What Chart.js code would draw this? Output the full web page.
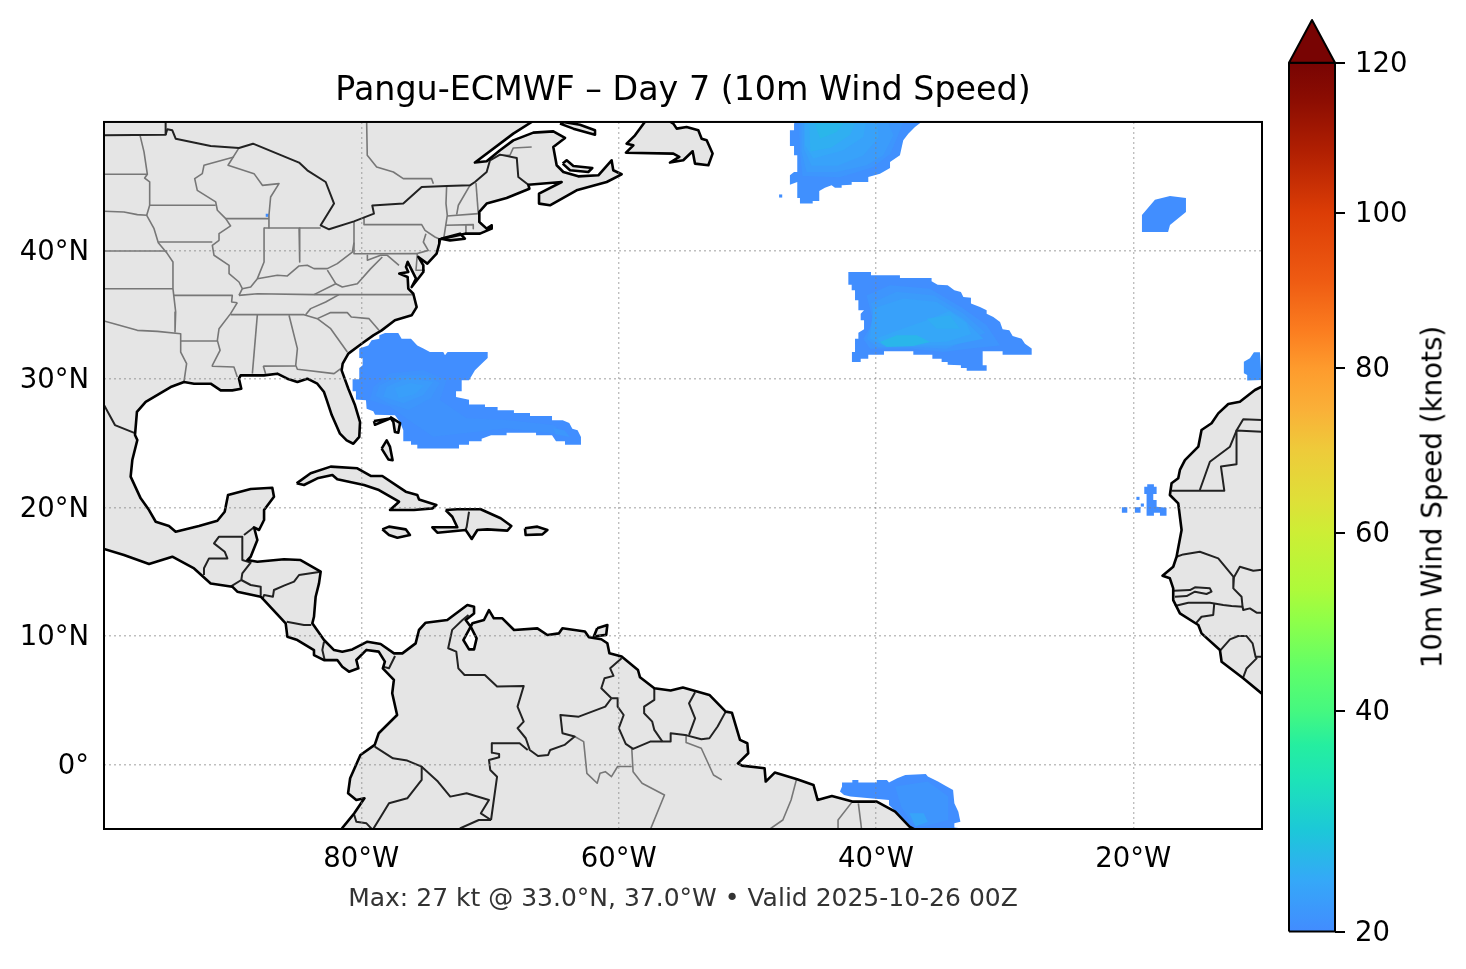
<!DOCTYPE html>
<html>
<head>
<meta charset="utf-8">
<title>Pangu-ECMWF Day 7</title>
<script src="https://cdn.jsdelivr.net/npm/chart.js@4/dist/chart.umd.min.js"></script>
<style>
    body { margin: 0; background: #fff; width: 1466px; height: 969px; overflow: hidden; position: relative; }
    canvas { position: absolute; top: 0; }
    #mapChart { left: 0; }
    #barChart { left: 1280px; }
    #barLabel {
        position: absolute; left: 1432px; top: 497px; white-space: nowrap;
        font: 27.7px "DejaVu Sans"; color: #000;
        transform: translate(-50%, -50%) rotate(-90deg);
    }
</style>
</head>
<body>
<canvas id="mapChart" width="1280" height="969"></canvas>
<canvas id="barChart" width="186" height="969"></canvas>
<div id="barLabel">10m Wind Speed (knots)</div>
<script>
// texts
const titleText = 'Pangu-ECMWF – Day 7 (10m Wind Speed)';
const footerText = 'Max: 27 kt @ 33.0°N, 37.0°W • Valid 2025-10-26 00Z';

// axes
const lonRange = [-100, -10];
const latRange = [-5, 50];
const lonTicks = [-80, -60, -40, -20];
const latTicks = [0, 10, 20, 30, 40];

// colorbar, the scale runs up to the tip of the arrow
const barTicks = [20, 40, 60, 80, 100, 120];
const barScaleValues = [20, 40, 60, 80, 100, 120, 125.7];
const barScaleFractions = [0, 0.2419, 0.4375, 0.6179, 0.7886, 0.9532, 1];
const barStopValues = [20, 24.6, 29.2, 33.7, 36.9, 40, 44.7, 50.3, 53.6, 60, 64, 70, 75, 80, 85, 91.5, 100, 108.3, 115, 120];
const barStopColors = ['#428cff', '#35a8f8', '#1cc8d8', '#1de3b8', '#25eea0', '#45f880', '#60fe68', '#90ff48', '#aefa3a', '#cdee35',
    '#dfdf38', '#eecb3a', '#fab038', '#fe9b2d', '#fb7c1f', '#ee5a12', '#dc3d06', '#b01f02', '#8c0d02', '#780403'];

// coast rings, lon/lat
const americasCoast = [[-66.7, 51], [-66.76, 50], [-68.19, 49.09], [-71.17, 46.84], [-70.26, 46.94], [-69.22, 47.8], [-68.19, 48.57], [-66.63, 49.17], [-65.08, 49.27], [-64.17, 48.76], [-65.08, 48.05], [-64.82, 46.63], [-64.3, 46.11], [-63.14, 45.77], [-61.58, 45.85], [-60.55, 47.02], [-60.42, 46.24], [-59.77, 45.93], [-60.93, 45.33], [-63.27, 44.68], [-65.34, 43.52], [-66.17, 43.65], [-66.19, 44.42], [-64.43, 45.33], [-67.02, 45.12], [-66.94, 44.81], [-68.71, 44.09], [-70.26, 43.65], [-70.83, 43], [-70.83, 42.22], [-70.26, 41.7], [-69.87, 41.96], [-69.87, 41.7], [-70.78, 41.31], [-71.94, 41.31], [-73.89, 40.87], [-73.94, 40.53], [-74.15, 39.76], [-74.87, 38.98], [-75.57, 39.5], [-75.18, 38.85], [-75.18, 38.33], [-76.09, 37.16], [-75.75, 37.81], [-76.4, 39.11], [-76.53, 38.72], [-76.35, 38.33], [-77.05, 38.2], [-76.4, 37.94], [-76.35, 37.03], [-75.96, 36.64], [-75.7, 35.6], [-76.09, 34.96], [-77.39, 34.57], [-78.42, 33.79], [-79.07, 33.4], [-79.98, 32.75], [-81.01, 31.98], [-81.45, 31.2], [-81.53, 30.68], [-81.01, 29.25], [-80.49, 27.96], [-80.1, 26.66], [-80.16, 25.5], [-80.62, 24.97], [-81.14, 25.23], [-81.66, 25.75], [-82.3, 27.2], [-82.7, 28.4], [-82.9, 28.99], [-83.42, 29.64], [-84.2, 30.03], [-84.97, 29.77], [-85.75, 30.03], [-86.53, 30.42], [-87.56, 30.29], [-89.38, 30.29], [-89.51, 30.03], [-89.33, 29.25], [-90.03, 29.12], [-90.93, 29.12], [-91.71, 29.64], [-93, 29.64], [-93.78, 29.77], [-94.82, 29.38], [-96.76, 28.22], [-97.44, 27.44], [-97.59, 25.65], [-97.41, 25.26], [-97.8, 23.7], [-97.93, 22.41], [-97.15, 20.72], [-96.5, 19.81], [-95.98, 18.9], [-94.95, 18.57], [-94.43, 18.13], [-92.62, 18.57], [-91.19, 18.98], [-90.62, 19.68], [-90.36, 20.98], [-88.6, 21.45], [-86.92, 21.55], [-86.79, 20.85], [-87.56, 19.81], [-87.56, 19.04], [-87.95, 18.26], [-88.34, 18.47], [-88.08, 17.48], [-88.6, 16.18], [-88.86, 15.92], [-88.08, 15.79], [-86.01, 15.98], [-84.72, 15.92], [-83.16, 15.02], [-83.29, 14.11], [-83.55, 13.07], [-83.68, 11.51], [-83.81, 11], [-82.9, 9.7], [-82.12, 8.92], [-81.48, 8.79], [-80.7, 8.97], [-79.53, 9.57], [-78.5, 9.39], [-77.46, 8.66], [-76.81, 8.66], [-75.78, 9.44], [-75.52, 10.48], [-75, 11.05], [-73.32, 11.26], [-71.76, 12.42], [-71.24, 12.29], [-71.24, 11.77], [-71.89, 11.26], [-71.5, 10.74], [-72.07, 9.7], [-71.63, 8.97], [-71.24, 8.97], [-71.04, 9.83], [-71.5, 10.74], [-71.37, 11], [-70.47, 11.26], [-70.08, 12.03], [-69.7, 11.39], [-69.04, 11.39], [-68.13, 10.48], [-66.32, 10.61], [-65.54, 10.09], [-64.64, 10.22], [-64.37, 10.62], [-62.62, 10.36], [-62.31, 9.92], [-61.35, 9.76], [-60.88, 9.45], [-60.72, 8.67], [-59.77, 8.41], [-58.5, 7.37], [-58.34, 6.8], [-57.23, 5.95], [-55.96, 5.77], [-55.01, 6], [-52.95, 5.43], [-51.68, 4.13], [-51.2, 4.05], [-50.57, 1.93], [-50, 1.67], [-49.93, 0.89], [-50.73, 0.11], [-50.41, -0.07], [-48.66, -0.28], [-48.57, -1.31], [-47.87, -0.61], [-46.13, -1.13], [-44.86, -1.57], [-44.54, -2.74], [-43.43, -2.43], [-41.84, -2.87], [-39.94, -2.87], [-38.51, -3.65], [-37.4, -4.81], [-36.93, -5.07], [-36.93, -6], [-81.5, -6], [-81.5, -4.94], [-80.55, -3.78], [-79.76, -2.61], [-80.39, -2.74], [-81.03, -2.22], [-80.87, -1.05], [-80.07, 0.76], [-78.96, 1.54], [-78.65, 2.45], [-77.22, 3.87], [-77.6, 5.56], [-77.47, 6.6], [-78.33, 7.5], [-78.17, 8.02], [-78.65, 8.8], [-79.6, 8.93], [-80.39, 8.15], [-80.23, 7.5], [-80.96, 7.24], [-81.48, 7.62], [-81.87, 8.14], [-82.9, 8.14], [-83.68, 8.53], [-83.68, 8.92], [-84.97, 9.7], [-85.75, 9.96], [-85.88, 11], [-87.56, 12.81], [-87.82, 13.07], [-89.64, 13.46], [-90.03, 13.85], [-91.71, 14.1], [-93, 15.27], [-94.69, 16.18], [-96.5, 15.61], [-98.45, 16.31], [-100, 16.78], [-101, 16.9], [-101, 51], [-66.7, 51]];
const africaCoast = [[-9, 30], [-10.03, 29.41], [-10.55, 29.15], [-11.72, 28.24], [-12.62, 28.06], [-13.4, 27.33], [-13.92, 26.56], [-14.7, 26.04], [-14.95, 24.74], [-15.99, 23.7], [-16.38, 22.93], [-16.51, 22.28], [-17.03, 21.89], [-17.16, 20.98], [-16.51, 20.33], [-16.25, 18.26], [-16.64, 16.18], [-16.9, 15.4], [-17.73, 14.7], [-17.16, 14.5], [-16.9, 13.72], [-16.9, 12.81], [-16.38, 11.77], [-14.95, 10.87], [-14.7, 10.22], [-13.27, 8.92], [-13.14, 8.01], [-11.46, 6.72], [-10.03, 5.55], [-9, 5], [-9, 30]];
const newfoundland = [[-57.82, 50.2], [-58.73, 48.96], [-59.38, 48.31], [-58.86, 48.18], [-59.43, 47.61], [-55.75, 47.54], [-55.29, 47.28], [-56.01, 46.84], [-54.98, 47.02], [-54.25, 47.72], [-54.07, 46.76], [-53.03, 46.63], [-52.7, 47.54], [-53.16, 48.57], [-53.55, 48.7], [-53.81, 49.35], [-54.72, 49.61], [-55.49, 49.48], [-55.75, 49.87], [-56.27, 50.2], [-57.82, 50.2]];
const anticosti = [[-64.56, 49.87], [-63.52, 49.48], [-61.84, 49.01], [-61.84, 49.35], [-63.01, 49.79], [-64.3, 50], [-64.56, 49.87]];
const princeEdward = [[-64.35, 46.76], [-63.78, 46.24], [-62.36, 46.11], [-62.05, 46.42], [-63.52, 46.58], [-64.04, 47.02], [-64.35, 46.76]];
const longIsland = [[-73.81, 40.92], [-72.33, 41.31], [-71.95, 40.92], [-73.11, 40.79], [-73.81, 40.92]];
const cuba = [[-85.03, 21.89], [-83.94, 22.67], [-82.38, 23.19], [-80.31, 23.06], [-79.27, 22.46], [-78.37, 22.46], [-76.55, 21.24], [-75.65, 20.98], [-75.52, 20.64], [-74.17, 20.2], [-74.48, 19.94], [-75.91, 19.81], [-77.77, 19.81], [-77.07, 20.46], [-78.63, 21.37], [-79.79, 21.76], [-81.87, 22.2], [-82.25, 22.54], [-83.42, 22.28], [-84.46, 21.76], [-85.03, 21.89]];
const jamaica = [[-78.37, 18.31], [-77.85, 18.52], [-76.55, 18.31], [-76.22, 17.87], [-77.2, 17.66], [-77.85, 17.87], [-78.37, 18.31]];
const hispaniola = [[-73.45, 19.81], [-72.54, 19.87], [-71.5, 19.87], [-70.73, 19.87], [-69.17, 19.17], [-68.34, 18.57], [-68.65, 18.21], [-70.21, 18.31], [-70.98, 18.26], [-71.42, 17.56], [-71.89, 18.26], [-74.09, 18.05], [-74.48, 18.47], [-72.54, 18.47], [-72.93, 19.29], [-73.45, 19.81]];
const puertoRico = [[-67.28, 18.39], [-66.32, 18.52], [-65.54, 18.26], [-65.93, 17.92], [-67.23, 17.87], [-67.28, 18.39]];
const trinidad = [[-61.67, 10.62], [-60.88, 10.87], [-60.97, 10.1], [-61.93, 9.97], [-61.67, 10.62]];
const andros = [[-78.42, 24.59], [-78.03, 25.23], [-77.77, 24.72], [-77.57, 23.68], [-77.9, 23.75], [-78.42, 24.59]];
const grandBahama = [[-79.02, 26.74], [-77.77, 26.92], [-78.94, 26.45], [-79.02, 26.74]];
const abaco = [[-77.77, 27.05], [-76.99, 26.58], [-77.13, 25.83], [-77.39, 25.88], [-77.51, 26.66], [-77.77, 27.05]];
const coastRings = [americasCoast, africaCoast, newfoundland, anticosti, princeEdward, longIsland, cuba, jamaica, hispaniola, puertoRico, trinidad, andros, grandBahama, abaco];

// country borders
const countryBorders = [
    [[-100, 48.96], [-95.21, 49.01], [-95.21, 50.2]],
    [[-95.21, 49.01], [-95.08, 49.43], [-94.69, 49.35], [-94.43, 48.7], [-91.71, 48.13], [-89.51, 47.98], [-88.42, 48.31], [-84.84, 46.84], [-84.2, 46.24], [-82.77, 45.33], [-82.12, 43.65], [-83.16, 41.96], [-82.51, 41.65], [-80.57, 42.27], [-79.02, 42.87], [-79.15, 43.5], [-76.74, 43.65], [-75.31, 44.94], [-73.37, 45.02], [-71.56, 45.07], [-71.17, 45.33], [-70.26, 46.11], [-70, 47.02], [-69.22, 47.46], [-67.92, 47.2], [-67.8, 45.72], [-67.02, 45.12]],
    [[-100, 27.98], [-99.15, 26.42], [-97.6, 25.8]],
    [[-71.63, 19.68], [-71.81, 18.52], [-71.89, 18.26]],
    [[-92.23, 14.76], [-92.23, 15.28], [-91.84, 16.05], [-90.41, 16.05], [-90.62, 16.57], [-91.45, 17.22], [-91.06, 17.74], [-89.25, 17.74], [-89.25, 15.92]],
    [[-89.12, 17.87], [-88.34, 18.47]],
    [[-89.25, 15.92], [-88.6, 15.72], [-89.25, 14.89], [-89.33, 14.37], [-90.16, 13.85]],
    [[-89.33, 14.37], [-88.6, 13.98], [-87.82, 13.85], [-87.82, 13.2]],
    [[-83.16, 15.02], [-84.84, 14.76], [-85.23, 14.24], [-86.01, 13.93], [-86.79, 13.59], [-86.87, 13.07], [-87.56, 13.2], [-87.69, 12.86]],
    [[-85.8, 11.13], [-84.46, 10.87], [-83.89, 10.87]],
    [[-82.9, 9.57], [-83.03, 8.92], [-82.85, 8.14]],
    [[-77.38, 8.46], [-77.85, 7.5], [-78.33, 7.63]],
    [[-71.67, 11.65], [-72.14, 11.26], [-72.94, 10.49], [-73.25, 9.06], [-72.62, 8.8], [-72.46, 7.5], [-71.98, 6.98], [-70.4, 6.98], [-69.45, 6.08], [-67.38, 6.13], [-67.86, 4.52], [-67.38, 3.35], [-67.86, 2.84], [-67.22, 2.06], [-66.91, 1.15], [-66.27, 0.68], [-65.48, 0.76], [-65.32, 1.15], [-64.21, 1.54], [-63.42, 2.19], [-64.37, 2.45], [-64.53, 3.87], [-63.1, 3.74], [-61.04, 4.52], [-60.56, 5.17]],
    [[-60.56, 5.17], [-61.35, 5.95], [-61.1, 6.73], [-60.4, 6.91], [-60.66, 7.5], [-59.77, 8.28]],
    [[-60.56, 5.17], [-60.08, 5.17], [-60.08, 4.52], [-59.61, 3.87], [-59.99, 2.84], [-59.45, 1.62], [-58.88, 1.23], [-57.55, 1.8], [-55.96, 1.8], [-55.96, 2.45], [-54.85, 2.32], [-53.58, 1.98], [-52.95, 2.06], [-52.31, 2.97], [-51.68, 4.13]],
    [[-57.23, 5.95], [-57.23, 5.04], [-58.02, 4.52], [-58.02, 4], [-57.39, 3.35], [-57.23, 2.71], [-56.6, 1.8]],
    [[-54.06, 5.64], [-54.53, 4.78], [-54.06, 3.61], [-54.53, 2.32]],
    [[-78.96, 1.41], [-77.54, 0.5], [-76.43, 0.32], [-75.31, -0.15], [-74.05, -1.31], [-73.09, -2.48], [-71.82, -2.22], [-70.08, -2.74], [-70.71, -3.78], [-69.92, -4.3]],
    [[-69.86, 1.67], [-67.7, 1.67], [-67.07, 1.15]],
    [[-69.86, 1.67], [-69.86, 0.94], [-69.29, 0.84], [-69.29, 0.58], [-70.08, 0.37], [-69.98, -0.41], [-69.45, -0.93], [-69.92, -4.3]],
    [[-75.31, -0.15], [-75.31, -1.18], [-76.43, -2.61], [-77.85, -3], [-78.49, -4.04], [-79.12, -5.07]],
    [[-80.55, -3.91], [-80.39, -4.43], [-79.6, -4.56], [-79.12, -5.07]],
    [[-69.92, -4.3], [-70.87, -4.3], [-72.3, -4.94], [-72.6, -5.5]],
    [[-17.03, 21.32], [-12.93, 21.32], [-13.19, 23.19], [-11.98, 23.37], [-11.98, 25.99], [-10.03, 25.91], [-9, 25.91]],
    [[-14.83, 21.37], [-14.05, 23.57], [-12.49, 24.74], [-11.98, 25.99], [-11.46, 26.87], [-10.03, 26.82], [-9, 26.82]],
    [[-16.64, 16.18], [-16.12, 16.36], [-14.83, 16.57], [-13.4, 16.05], [-12.18, 14.58], [-12.23, 13.72], [-11.59, 13.07], [-11.51, 12.29], [-12.36, 12.34], [-13.01, 12.42], [-14.05, 12.6], [-15.73, 12.6], [-16.77, 12.34]],
    [[-12.18, 14.58], [-11.72, 15.4], [-10.68, 15.09], [-9, 15.27]],
    [[-11.51, 12.29], [-11.46, 12.03], [-10.94, 12.16], [-10.42, 11.83], [-9, 11.83]],
    [[-16.85, 13.54], [-15.6, 13.59], [-15.21, 13.8], [-14.05, 13.72], [-13.92, 13.46], [-14.31, 13.28], [-15.21, 13.46], [-15.86, 13.12], [-16.77, 13.07]],
    [[-13.71, 12.55], [-13.79, 11.65], [-14.7, 11.51], [-15.14, 10.99]],
    [[-13.22, 8.92], [-12.49, 9.75], [-11.85, 10.01], [-11.2, 10.01], [-10.73, 9.44], [-10.5, 8.4], [-9, 8.4]],
    [[-11.46, 6.79], [-11.2, 7.49], [-10.42, 8.27], [-10.5, 8.4]],
];

// state and province lines
const stateLines = [
    [[-100, 45.93], [-96.63, 45.93]],
    [[-97.2, 48.96], [-96.89, 47.67], [-96.63, 45.93], [-96.84, 45.64], [-96.45, 45.33], [-96.45, 43.52], [-96.68, 42.74]],
    [[-100, 43.05], [-98.45, 43], [-97.41, 42.79], [-96.68, 42.74], [-96.11, 41.7], [-95.78, 40.61], [-95.08, 39.76], [-94.64, 39.11], [-94.64, 37.03], [-94.43, 35.22], [-94.48, 33.66]],
    [[-100, 39.96], [-95.08, 39.96]],
    [[-100, 37.03], [-94.64, 37.03]],
    [[-96.45, 43.52], [-91.32, 43.52]],
    [[-95.78, 40.66], [-91.58, 40.66]],
    [[-94.64, 36.51], [-90.03, 36.51], [-90.08, 36], [-89.64, 35.94]],
    [[-100, 34.52], [-99.22, 34.31], [-97.41, 33.79], [-95.85, 33.71], [-94.04, 33.53], [-94.04, 32.88], [-94.04, 32.1], [-93.58, 31.2], [-93.78, 29.82]],
    [[-94.04, 32.96], [-91.19, 32.96]],
    [[-89.51, 47.98], [-90.36, 46.63], [-88.34, 45.98], [-87.69, 45.07], [-86.4, 45.2], [-87.05, 44.16], [-87.18, 42.74], [-87.18, 41.75]],
    [[-90.54, 42.48], [-87.18, 42.48]],
    [[-89.9, 47.28], [-92.23, 46.63], [-92.36, 45.98], [-92.95, 45.59], [-92.75, 44.68], [-91.32, 43.78], [-91.19, 43.13], [-90.54, 42.48], [-90.16, 41.91], [-91.06, 41.31], [-91.06, 40.79], [-91.58, 40.4], [-91.45, 39.63], [-90.28, 38.85], [-90.28, 38.2], [-89.51, 37.55], [-89.25, 37.03], [-89.51, 36.51]],
    [[-89.64, 35.94], [-90.16, 35.09], [-91.06, 33.92], [-91.19, 33.01], [-90.98, 32.24], [-91.58, 31.07], [-91.58, 31], [-89.9, 30.94], [-89.64, 30.16]],
    [[-90.16, 35.01], [-84.46, 35.01], [-83.42, 34.7]],
    [[-88.08, 35.01], [-88.47, 30.42]],
    [[-85.62, 34.96], [-84.97, 32.37], [-85.1, 31.07], [-84.97, 30.76], [-82.12, 30.42], [-81.6, 30.81]],
    [[-87.62, 31.01], [-85.1, 31.02]],
    [[-87.62, 31.01], [-87.44, 30.42]],
    [[-83.42, 34.7], [-82.38, 33.92], [-81.09, 32.11]],
    [[-83.42, 34.7], [-82.38, 35.17], [-81.09, 35.17], [-80.78, 34.83], [-79.4, 34.7], [-78.63, 33.79]],
    [[-84.33, 35.01], [-83.94, 35.48], [-82.77, 35.99], [-81.74, 36.57]],
    [[-89.51, 36.51], [-88.08, 36.64], [-83.68, 36.57], [-75.96, 36.57]],
    [[-87.56, 41.75], [-87.56, 39.11], [-88.08, 37.81]],
    [[-84.84, 41.75], [-84.79, 39.11]],
    [[-87.56, 41.75], [-83.16, 41.75]],
    [[-89.25, 37.03], [-88.6, 37.16], [-88.08, 37.81], [-86.53, 38.07], [-85.75, 38.02], [-84.84, 38.8], [-84.2, 38.85], [-83.68, 38.59], [-82.64, 38.59], [-81.87, 38.98], [-80.7, 39.88], [-80.57, 40.61]],
    [[-80.57, 42.22], [-80.57, 39.75], [-75.65, 39.76]],
    [[-82.64, 38.47], [-81.99, 37.42], [-83.68, 36.57]],
    [[-81.99, 37.42], [-81.48, 37.16], [-80.31, 37.42], [-79.27, 38.59], [-78.37, 39.5]],
    [[-79.53, 39.63], [-79.53, 39.24], [-78.5, 39.63], [-77.98, 39.63], [-77.07, 38.85]],
    [[-79.79, 42.48], [-79.79, 42.01], [-75.31, 42.01], [-75.05, 41.57], [-74.28, 41.05], [-73.89, 40.87]],
    [[-74.98, 41.31], [-75.18, 40.66], [-74.8, 40.01], [-75.65, 39.76], [-75.75, 38.46], [-75.05, 38.46]],
    [[-73.37, 45.02], [-73.42, 43.65], [-73.32, 42.74], [-73.58, 41.05]],
    [[-73.32, 42.69], [-70.91, 42.87]],
    [[-73.42, 41.96], [-71.3, 42.01], [-71.3, 41.7]],
    [[-71.87, 41.96], [-71.87, 41.31]],
    [[-71.56, 45.07], [-72.46, 43.52], [-72.59, 42.79]],
    [[-71.09, 45.25], [-70.91, 42.87]],
    [[-79.59, 50.2], [-79.54, 47.41], [-78.81, 46.5], [-77.51, 46.11], [-76.74, 45.59], [-74.54, 45.59], [-74.4, 45.2]],
    [[-69.35, 47.41], [-68.45, 47.41], [-68.19, 47.98], [-66.76, 48.05]],
    [[-63.42, 2.19], [-62.72, 1.8], [-62.47, -0.67], [-61.67, -1.44], [-61.45, -0.67], [-61.04, -0.54], [-60.56, -0.93], [-60.08, -0.14], [-58.98, -0.14]],
    [[-58.98, 1.23], [-58.88, -0.54], [-58.18, -1.44], [-56.44, -2.35], [-57.55, -5.07], [-57.8, -5.6]],
    [[-54.76, 2.32], [-54.76, 1.72], [-53.58, 1.28], [-52.63, -0.8], [-51.99, -1.18]],
    [[-46.19, -1.18], [-46.6, -2.74], [-47.24, -4.3], [-48.35, -5.07], [-48.8, -5.6]],
    [[-41.84, -2.87], [-42.95, -4.3], [-42.95, -5.6]],
    [[-41.37, -3], [-41.05, -5.6]],
];

// wind patches, outer edge first, lon/lat
const stormEdge = [[-78.16, 33.58], [-77.13, 33.58], [-76.87, 33.14], [-76.14, 33.14], [-75.65, 32.62], [-75.18, 32.37], [-74.67, 32.11], [-73.63, 32.11], [-73.5, 31.85], [-73.3, 32.11], [-72.2, 32.11], [-70.18, 32.11], [-70.18, 31.64], [-70.65, 31.2], [-71.17, 30.68], [-71.63, 29.9], [-72.2, 29.9], [-72.2, 29.05], [-72.64, 29.05], [-72.64, 28.6], [-71.63, 28.4], [-71.63, 28.03], [-70.39, 28.03], [-70.39, 27.83], [-69.41, 27.83], [-69.41, 27.57], [-68.14, 27.57], [-68.14, 27.36], [-66.89, 27.36], [-66.89, 27.13], [-65.18, 27.13], [-65.18, 26.79], [-64.35, 26.79], [-63.84, 26.58], [-63.6, 26.14], [-63.19, 26.01], [-62.93, 25.49], [-62.93, 24.9], [-64.17, 24.9], [-64.17, 25.16], [-64.87, 25.16], [-65.18, 25.62], [-66.42, 25.62], [-66.42, 25.83], [-68.71, 25.83], [-68.71, 25.62], [-69.92, 25.62], [-70.65, 25.36], [-70.65, 25.16], [-71.63, 25.16], [-71.63, 24.9], [-72.41, 24.9], [-72.41, 24.59], [-75.65, 24.59], [-75.65, 24.9], [-76.14, 24.9], [-76.14, 25.16], [-76.69, 25.16], [-76.74, 26.01], [-77, 26.66], [-77.39, 27.18], [-78.94, 27.23], [-79.07, 27.49], [-79.59, 27.7], [-79.64, 28.35], [-80.42, 28.42], [-80.42, 29.05], [-80.68, 29.05], [-80.68, 29.98], [-80.16, 29.98], [-80.16, 30.86], [-79.9, 31.07], [-79.9, 31.64], [-80.16, 31.64], [-80.16, 32.37], [-79.46, 32.62], [-79.2, 33.01], [-78.6, 33.14], [-78.6, 33.4]];
const stormMid = [[-79.07, 29.41], [-77.77, 30.45], [-75.18, 30.71], [-73.37, 29.93], [-73.89, 28.37], [-71.82, 26.95], [-68.71, 26.82], [-65.08, 26.43], [-63.79, 25.52], [-65.08, 25.78], [-68.71, 26.17], [-72.07, 25.78], [-74.41, 25.52], [-75.96, 26.56], [-77.77, 27.85], [-79.33, 28.37]];
const stormInner = [[-78.6, 29.5], [-77, 30.3], [-74.9, 30.3], [-73.9, 29.7], [-74.6, 28.5], [-76.3, 27.6], [-77.9, 28.1], [-78.9, 28.7]];
const stormTail = [[-65.1, 26.2], [-64.2, 26], [-63.8, 25.5], [-64.9, 25.7]];
const stormCore = [[-78.03, 29.41], [-76.48, 30.06], [-74.41, 29.8], [-75.18, 28.76], [-76.74, 28.11], [-78.29, 28.63]];
const stormPeak = [[-77.4, 29.3], [-76.2, 29.7], [-75.1, 29.5], [-75.9, 28.8], [-77.1, 28.5]];
const northEdge = [[-46.17, 50.2], [-36.2, 50.2], [-36.97, 49.61], [-37.49, 49.09], [-37.88, 48.57], [-38.14, 47.41], [-38.91, 46.89], [-38.91, 46.42], [-39.69, 45.98], [-40.6, 45.72], [-40.6, 45.33], [-41.89, 45.33], [-41.89, 45.12], [-42.67, 45.07], [-42.67, 44.89], [-43.19, 44.89], [-43.45, 45.07], [-43.97, 44.89], [-44.41, 44.63], [-44.41, 43.85], [-44.92, 43.85], [-44.92, 43.65], [-45.91, 43.65], [-45.91, 44.09], [-46.12, 44.09], [-46.12, 45.33], [-46.69, 45.12], [-46.69, 45.85], [-46.37, 46.11], [-46.12, 46.11], [-46.12, 47.41], [-46.37, 47.41], [-46.37, 48.13], [-46.69, 48.13], [-46.69, 49.35], [-46.37, 49.35], [-46.37, 49.87]];
const northOuter = [[-46, 50.2], [-37.8, 50.2], [-38.4, 48.7], [-38.9, 47.5], [-40.2, 46.5], [-42.8, 45.7], [-45.7, 45.8], [-45.9, 47.6]];
const northMid = [[-45.78, 50.2], [-39.17, 50.2], [-38.65, 48.96], [-39.43, 47.41], [-40.73, 46.63], [-43.06, 46.11], [-45.39, 46.11], [-45.78, 47.67]];
const northBand = [[-45.6, 50.2], [-39.9, 50.2], [-39.8, 48.8], [-41, 47.4], [-43, 46.6], [-45, 46.6], [-45.6, 47.9]];
const northInner = [[-45.52, 50.2], [-40.73, 50.2], [-40.99, 48.83], [-42.54, 47.8], [-44.87, 47.15], [-45.52, 48.18]];
const northHigh = [[-45.2, 50.2], [-41.5, 50.2], [-42, 49], [-43.5, 48], [-45.1, 47.7]];
const northCore = [[-44.87, 50.2], [-42.28, 50.2], [-43.06, 49.22], [-44.35, 48.7]];
const centralEdge = [[-42.15, 38.33], [-40.39, 38.33], [-40.39, 38.07], [-38.14, 38.07], [-38.14, 37.86], [-35.68, 37.86], [-35.68, 37.6], [-35.21, 37.34], [-34.43, 37.29], [-33.91, 36.9], [-33.4, 36.77], [-33.21, 36.38], [-32.62, 36.33], [-32.62, 35.87], [-31.92, 35.61], [-31.4, 35.35], [-31.4, 35.09], [-30.88, 34.83], [-30.36, 34.44], [-30.16, 33.87], [-29.64, 33.79], [-29.38, 33.35], [-28.68, 33.14], [-28.42, 32.75], [-27.9, 32.37], [-27.9, 31.9], [-30.16, 31.9], [-30.16, 32.16], [-31.71, 32.16], [-31.71, 31.07], [-31.4, 31.07], [-31.4, 30.65], [-32.95, 30.65], [-32.95, 30.86], [-33.4, 30.86], [-33.4, 31.07], [-34.43, 31.12], [-34.43, 31.33], [-34.9, 31.33], [-34.9, 31.59], [-35.62, 31.59], [-35.62, 31.9], [-37.1, 31.9], [-37.1, 32.16], [-39.38, 32.16], [-39.38, 31.9], [-40.6, 31.9], [-40.6, 31.59], [-41.19, 31.59], [-41.19, 31.33], [-41.87, 31.33], [-41.87, 32.11], [-41.63, 32.11], [-41.63, 33.14], [-41.37, 33.14], [-41.37, 33.61], [-40.93, 33.87], [-40.93, 34.57], [-41.19, 34.57], [-41.19, 35.09], [-40.93, 35.35], [-41.37, 35.35], [-41.37, 36.13], [-41.63, 36.13], [-41.63, 36.9], [-41.89, 36.9], [-41.89, 37.34], [-42.15, 37.34]];
const centralMid = [[-40.73, 36.51], [-38.91, 37.29], [-35.8, 37.03], [-33.21, 35.48], [-31.4, 34.18], [-30.36, 32.62], [-32.69, 32.37], [-34.77, 32.11], [-37.36, 32.37], [-40.47, 32.37], [-40.99, 33.14], [-40.21, 34.44]];
const centralOuter = [[-40.4, 35.9], [-38.4, 36.8], [-35.5, 36.5], [-33.2, 35.1], [-31.5, 33.6], [-34.5, 32.35], [-37, 32.5], [-39.9, 32.5], [-40.7, 33.1], [-40.2, 34.9]];
const centralInner = [[-40.21, 35.48], [-37.88, 36.26], [-35.29, 35.99], [-33.21, 34.7], [-31.66, 33.14], [-34.25, 32.62], [-36.84, 32.62], [-39.43, 32.62], [-40.47, 33.14]];
const centralHigh = [[-39.9, 33.2], [-38, 33.9], [-36, 34.6], [-34.3, 35.3], [-33, 34.4], [-32.6, 33.5], [-34.5, 32.9], [-37, 32.8], [-39.5, 32.65]];
const centralBand = [[-36.06, 34.7], [-34.25, 34.96], [-33.47, 33.92], [-35.29, 33.92]];
const centralCore = [[-39.69, 32.88], [-38.39, 33.4], [-36.84, 33.4], [-35.8, 32.88], [-37.1, 32.57], [-39.17, 32.49]];
const southEdge = [[-42.64, -1.39], [-41.84, -1.39], [-41.84, -1.18], [-41.37, -1.18], [-41.37, -1.39], [-39.94, -1.39], [-39.94, -1.18], [-39.15, -1.18], [-38.99, -1.39], [-38.35, -1.05], [-37.72, -0.79], [-36.13, -0.72], [-35.97, -0.92], [-35.18, -1.31], [-34.71, -1.57], [-34.01, -1.96], [-33.91, -3], [-33.6, -3.65], [-33.44, -4.43], [-33.91, -4.56], [-33.91, -4.89], [-33.44, -4.94], [-33.44, -5.33], [-36.93, -5.33], [-37.4, -4.81], [-38.04, -4.04], [-38.99, -3.13], [-38.99, -2.74], [-41.99, -2.48], [-42.48, -2.35], [-42.8, -2.09], [-42.64, -1.7]];
const southMid = [[-38.51, -1.7], [-35.97, -1.31], [-34.39, -2.48], [-34.39, -4.3], [-36.29, -4.81], [-37.24, -4.56], [-38.04, -3.26]];
const southCore = [[-37.4, -3.78], [-36.29, -3.78], [-35.97, -4.43], [-36.93, -4.81]];
const azoresPatch = [[-15.91, 44.09], [-15.91, 43], [-17.15, 41.99], [-17.3, 41.44], [-19.33, 41.44], [-19.33, 42.77], [-18.32, 43.94], [-17.15, 44.24]];
const canaryPatch = [[-10.63, 32.08], [-10.16, 32.08], [-10.03, 29.93], [-11.15, 29.88], [-11.15, 30.32], [-11.41, 30.45], [-11.41, 31.35], [-10.94, 31.61]];
const verdePatch = [[-18.92, 21.81], [-18.4, 21.81], [-18.4, 21.63], [-18.19, 21.63], [-18.19, 21.06], [-18.45, 21.06], [-18.45, 20.59], [-18.19, 20.59], [-18.19, 20.07], [-17.42, 19.99], [-17.42, 19.37], [-17.93, 19.37], [-17.93, 19.61], [-18.4, 19.61], [-18.4, 19.37], [-18.97, 19.37], [-18.97, 21.06], [-19.15, 21.06], [-19.15, 21.63], [-18.92, 21.63]];
const verdeSmallA = [[-19.88, 20.02], [-19.44, 20.02], [-19.44, 19.61], [-19.88, 19.61]];
const verdeSmallB = [[-20.89, 20.02], [-20.47, 20.02], [-20.47, 19.61], [-20.89, 19.61]];
const windRings = [stormEdge, stormMid, stormInner, stormTail, stormCore, stormPeak, northEdge, northOuter, northMid, northBand, northInner, northHigh, northCore, centralEdge, centralMid, centralOuter, centralInner, centralHigh, centralBand, centralCore, southEdge, southMid, southCore, azoresPatch, canaryPatch, verdePatch, verdeSmallA, verdeSmallB];
const windSpeeds = [20.3, 21, 21.7, 21.8, 22.4, 23.2, 20.6, 21.6, 22.6, 23.6, 24.6, 25.6, 26.6, 20.4, 21.5, 22.5, 23.5, 24.5, 25.3, 26.6, 20.3, 21.4, 24, 20.3, 21, 20.2, 20.2, 20.2];
const windCells = [[-47.41, 44.24], [-87.31, 42.74], [-19.64, 20.72], [-19.3, 20.2]];

function hexToRgb(hex) {
    return [1, 3, 5].map(i => parseInt(hex.substr(i, 2), 16));
}

// same colours as the colorbar
function colorForSpeed(speed) {
    let i = 0;
    while (i < barStopValues.length - 2 && speed > barStopValues[i + 1]) i++;
    const t = (speed - barStopValues[i]) / (barStopValues[i + 1] - barStopValues[i]);
    const a = hexToRgb(barStopColors[i]);
    const b = hexToRgb(barStopColors[i + 1]);
    return 'rgb(' + a.map((c, k) => Math.round(c + (b[k] - c) * t)).join(',') + ')';
}

function toPoints(ring) {
    return ring.map(p => ({ x: p[0], y: p[1] }));
}

// colorbar spacing is not linear, so the scale goes through the fractions
class KnotScale extends Chart.LinearScale {
    static id = 'knots';
    static defaults = Chart.LinearScale.defaults;

    getPixelForValue(value) {
        let i = 0;
        while (i < barScaleValues.length - 2 && value > barScaleValues[i + 1]) i++;
        const t = (value - barScaleValues[i]) / (barScaleValues[i + 1] - barScaleValues[i]);
        return this.getPixelForDecimal(barScaleFractions[i] + (barScaleFractions[i + 1] - barScaleFractions[i]) * t);
    }

    getValueForPixel(pixel) {
        const dec = this.getDecimalForPixel(pixel);
        let i = 0;
        while (i < barScaleValues.length - 2 && dec > barScaleFractions[i + 1]) i++;
        const t = (dec - barScaleFractions[i]) / (barScaleFractions[i + 1] - barScaleFractions[i]);
        return barScaleValues[i] + (barScaleValues[i + 1] - barScaleValues[i]) * t;
    }
}
Chart.register(KnotScale);

const frame = {
    id: 'frame',
    afterDraw(chart) {
        const { ctx, chartArea: a } = chart;
        ctx.save();
        ctx.strokeStyle = '#000';
        ctx.lineWidth = 2;
        ctx.strokeRect(a.left, a.top, a.right - a.left, a.bottom - a.top);
        ctx.restore();
    }
};

const line = { showLine: true, pointRadius: 0, fill: false, borderJoinStyle: 'round' };
const mapDatasets = [];

coastRings.forEach(ring => {
    mapDatasets.push({ ...line, data: toPoints(ring), order: 6, fill: 'shape', backgroundColor: '#e5e5e5', borderWidth: 0 });
});
windRings.forEach((ring, i) => {
    const color = colorForSpeed(windSpeeds[i]);
    mapDatasets.push({ ...line, data: toPoints(ring), order: 5 - i / 100, fill: 'shape', backgroundColor: color, borderWidth: 0 });
});
mapDatasets.push({
    data: toPoints(windCells), order: 4, showLine: false, pointStyle: 'rect', pointRadius: 2.2,
    pointBackgroundColor: colorForSpeed(20.3), pointBorderWidth: 0
});
stateLines.forEach(ring => {
    mapDatasets.push({ ...line, data: toPoints(ring), order: 3, borderColor: '#777', borderWidth: 1.6 });
});
countryBorders.forEach(ring => {
    mapDatasets.push({ ...line, data: toPoints(ring), order: 2, borderColor: '#222', borderWidth: 2 });
});
coastRings.forEach(ring => {
    mapDatasets.push({ ...line, data: toPoints(ring), order: 1, borderColor: '#000', borderWidth: 2.6 });
});

const gridStyle = { display: true, color: 'rgba(128,128,128,0.5)', lineWidth: 1.4, drawTicks: false, z: 1 };
const tickFont = { family: 'DejaVu Sans', size: 27.5 };

new Chart(document.getElementById('mapChart'), {
    type: 'scatter',
    data: { datasets: mapDatasets },
    options: {
        responsive: false,
        animation: false,
        events: [],
        layout: { padding: { right: 18 } },
        plugins: {
            legend: { display: false },
            tooltip: { enabled: false },
            title: {
                display: true,
                text: titleText,
                fullSize: false,
                color: '#000',
                font: { family: 'DejaVu Sans', size: 33.3, weight: 'normal', lineHeight: 1.2 },
                padding: { top: 71, bottom: 11 }
            }
        },
        scales: {
            x: {
                type: 'linear',
                min: lonRange[0],
                max: lonRange[1],
                grid: gridStyle,
                border: { display: false, dash: [2, 3] },
                ticks: { color: '#000', font: tickFont, padding: 14, autoSkip: false, maxRotation: 0, callback: v => -v + '°W' },
                title: {
                    display: true,
                    text: footerText,
                    color: '#333',
                    font: { family: 'DejaVu Sans', size: 25 },
                    padding: { top: 0, bottom: 55 }
                },
                afterBuildTicks(axis) { axis.ticks = lonTicks.map(v => ({ value: v })); },
                afterFit(axis) { axis.height = 140; }
            },
            y: {
                type: 'linear',
                min: latRange[0],
                max: latRange[1],
                grid: gridStyle,
                border: { display: false, dash: [2, 3] },
                ticks: { color: '#000', font: tickFont, padding: 15, labelOffset: 2, autoSkip: false, callback: v => (v === 0 ? '0°' : v + '°N') },
                afterBuildTicks(axis) { axis.ticks = latTicks.map(v => ({ value: v })); },
                afterFit(axis) { axis.width = 104; }
            }
        }
    },
    plugins: [frame]
});

const first = barTicks[0];
const last = barTicks[barTicks.length - 1];
const tip = barScaleValues[barScaleValues.length - 1];

new Chart(document.getElementById('barChart'), {
    type: 'scatter',
    data: {
        datasets: [
            {
                ...line,
                data: toPoints([[0, last], [0.5, tip], [1, last], [0, last]]),
                fill: 'shape',
                clip: false,
                backgroundColor: barStopColors[barStopColors.length - 1],
                borderColor: '#000',
                borderWidth: 2
            },
            {
                ...line,
                data: toPoints([[0, first], [0, last], [1, last], [1, first], [0, first]]),
                fill: 'shape',
                clip: false,
                borderColor: '#000',
                borderWidth: 2,
                backgroundColor(context) {
                    const { chart } = context;
                    if (!chart.chartArea) return '#fff';
                    const scale = chart.scales.y;
                    const g = chart.ctx.createLinearGradient(0, scale.getPixelForValue(first), 0, scale.getPixelForValue(last));
                    const span = scale.getPixelForValue(last) - scale.getPixelForValue(first);
                    barStopValues.forEach((v, i) => {
                        g.addColorStop((scale.getPixelForValue(v) - scale.getPixelForValue(first)) / span, barStopColors[i]);
                    });
                    return g;
                }
            }
        ]
    },
    options: {
        responsive: false,
        animation: false,
        events: [],
        layout: { padding: { left: 9, top: 20, bottom: 37.5 } },
        plugins: { legend: { display: false }, tooltip: { enabled: false } },
        scales: {
            x: { type: 'linear', display: false, min: 0, max: 1 },
            y: {
                type: 'knots',
                position: 'right',
                min: first,
                max: tip,
                border: { display: false },
                grid: { drawOnChartArea: false, drawTicks: true, tickLength: 10, color: '#000', lineWidth: 2 },
                ticks: { color: '#000', font: tickFont, padding: 10, labelOffset: 2, autoSkip: false },
                afterBuildTicks(axis) { axis.ticks = barTicks.map(v => ({ value: v })); },
                afterFit(axis) {
                    axis.width = 131;
                    axis.paddingTop = 0;
                    axis.paddingBottom = 0;
                }
            }
        }
    }
});
</script>
</body>
</html>
